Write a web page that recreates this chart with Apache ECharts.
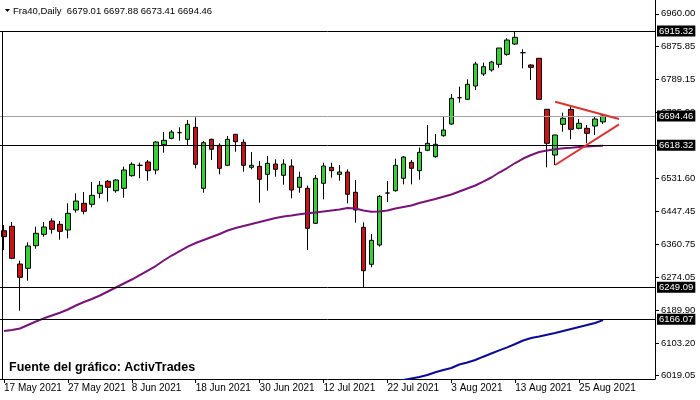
<!DOCTYPE html>
<html><head><meta charset="utf-8">
<script src="https://cdn.jsdelivr.net/npm/echarts@6/dist/echarts.min.js"></script>
<style>html,body{margin:0;padding:0;background:#fff}#c{width:700px;height:400px}</style>
</head><body><div id="c"></div>
<script>
const symbolName = 'Fra40,Daily';
const sourceText = 'Fuente del gráfico: ActivTrades';
const firstDate = '2021-05-17';
const totalSlots = 82;

const openP = [6396.1,6407.5,6309.5,6298.3,6357.1,6386.7,6421.3,6412.7,6397.9,6449.9,
6467.3,6464.7,6493.3,6524.5,6500.1,6506.3,6539.1,6566.0,6574.7,6553.9,
6619.7,6636.3,6650.9,6633.7,6664.9,6506.3,6633.7,6618.1,6566.1,6646.7,
6625.9,6560.9,6563.5,6542.7,6569.5,6540.1,6564.3,6508.9,6506.3,6415.3,
6519.3,6560.9,6542.7,6548.7,6495.9,6404.9,6308.7,6358.9,6494.1,6500.1,
6532.3,6573.9,6552.1,6605.1,6588.5,6643.1,6673.5,6741.9,6737.7,6772.3,
6803.5,6813.9,6828.7,6854.7,6881.5,6858.9,6826.9,6844.3,6711.7,6592.9,
6672.7,6711.7,6662.3,6662.3,6668.3,6679.01];
const highP = [6410.9,6418.7,6318.1,6365.9,6406.5,6418.7,6428.3,6421.3,6467.3,6493.3,
6496.7,6522.7,6525.3,6527.9,6529.7,6562.5,6573.9,6572.9,6579.9,6629.3,
6652.7,6657.9,6664.9,6683.9,6690.9,6629.3,6635.3,6623.3,6642.3,6647.5,
6633.7,6600.7,6577.3,6590.3,6581.7,6581.7,6581.7,6549.5,6513.6,6540.9,
6572.9,6572.9,6566.9,6555.7,6527.9,6417.9,6387.5,6488.9,6525.3,6583.3,
6590.3,6579.9,6612.4,6670.9,6647.5,6692.5,6751.5,6770.5,6789.7,6835.5,
6832.9,6838.1,6871.1,6896.3,6913.5,6867.7,6828.7,6845.1,6712.5,6645.5,
6702.9,6722.9,6686.5,6670.9,6692.5,6697.88];
const lowP = [6345.9,6322.0,6188.1,6266.1,6349.3,6380.5,6388.3,6372.7,6376.3,6442.9,
6438.7,6456.9,6480.3,6471.5,6494.9,6481.9,6536.5,6532.3,6526.1,6542.7,
6598.9,6633.7,6630.1,6616.3,6558.3,6494.9,6579.9,6542.7,6564.3,6601.5,
6549.5,6555.7,6468.9,6500.1,6536.5,6515.7,6480.3,6494.9,6345.9,6414.0,
6477.7,6533.9,6526.1,6467.3,6416.9,6248.9,6300.9,6354.5,6470.7,6497.5,
6516.7,6516.7,6528.7,6602.9,6585.9,6640.5,6671.7,6728.9,6735.9,6761.9,
6798.3,6809.5,6819.9,6851.1,6878.9,6818.3,6787.9,6737.7,6560.9,6566.9,
6653.5,6633.7,6659.7,6623.3,6644.9,6673.41];
const closeP = [6380.5,6324.3,6274.9,6356.3,6389.3,6405.7,6399.7,6394.5,6441.3,6473.3,
6446.5,6488.1,6514.1,6508.9,6527.9,6553.9,6568.7,6566.0,6552.1,6626.7,
6631.1,6652.7,6650.9,6672.7,6568.7,6624.9,6607.7,6558.3,6633.7,6627.5,
6566.1,6566.1,6529.7,6571.3,6555.7,6569.5,6501.9,6534.9,6402.3,6532.3,
6564.3,6552.1,6548.7,6490.7,6449.9,6292.1,6371.1,6485.5,6494.1,6566.1,
6587.7,6558.3,6599.9,6623.3,6620.7,6657.9,6740.3,6741.9,6776.7,6829.5,
6822.5,6834.7,6871.1,6891.9,6898.9,6858.9,6820.9,6737.7,6623.3,6644.9,
6688.3,6659.7,6675.3,6649.3,6686.5,6694.46];

const maPurple = [6135.3,6137.9,6141.8,6150.9,6160.0,6168.3,6175.6,6182.9,6191.2,6201.6,
6210.7,6218.5,6227.6,6238.0,6248.4,6258.8,6269.2,6280.9,6292.6,6304.3,
6318.6,6331.6,6343.3,6354.5,6364.1,6371.9,6379.7,6387.5,6396.6,6403.1,
6408.3,6413.5,6418.7,6423.9,6429.1,6433.0,6435.6,6438.7,6441.3,6443.4,
6446.0,6448.6,6451.2,6455.1,6453.8,6448.6,6445.5,6446.0,6448.6,6453.8,
6457.7,6461.6,6468.1,6473.3,6478.5,6484.5,6490.2,6498.0,6505.8,6513.6,
6523.5,6534.4,6547.4,6559.1,6572.1,6583.8,6592.9,6600.7,6604.6,6607.7,
6610.3,6611.9,6613.7,6615.0,6616.3,6617.1];
const maBlue = [null,null,null,null,null,null,null,null,null,null,
null,null,null,null,null,null,null,null,null,null,
null,null,null,null,null,null,null,null,null,null,
null,null,null,null,null,null,null,null,null,null,
null,null,null,null,null,null,null,5992.3,5997.5,6002.7,
6007.9,6011.8,6015.7,6020.9,6027.9,6033.9,6039.1,6048.2,6053.4,6059.9,
6068.5,6076.8,6085.1,6092.9,6101.5,6110.6,6117.1,6121.0,6125.7,6130.1,
6135.3,6140.5,6145.7,6150.9,6156.1,6163.5];

const levelLines = [6915.32, 6618.32, 6249.09, 6166.07];
const lastPrice = closeP[closeP.length - 1];
const triUpper = [[69, 6731.5], [77, 6686.5]];
const triLower = [[69, 6566.9], [77, 6672.7]];
const yTicks = [6019.05, 6103.20, 6189.90, 6274.05, 6360.75, 6447.45, 6531.60, 6618.30, 6705.00, 6789.15, 6875.85, 6960.00];
const yMin = 6010.52, yMax = 6995.92;
const xTickLabels = ['17 May 2021','27 May 2021','8 Jun 2021','18 Jun 2021','30 Jun 2021','12 Jul 2021','22 Jul 2021','3 Aug 2021','13 Aug 2021','25 Aug 2021'];

// category slots: weekdays from first date
const MON = ['Jan','Feb','Mar','Apr','May','Jun','Jul','Aug','Sep','Oct','Nov','Dec'];
const categories = [];
{
  const d = new Date(firstDate + 'T12:00:00Z');
  while (categories.length < totalSlots) {
    const wd = d.getUTCDay();
    if (wd !== 0 && wd !== 6) categories.push(d.getUTCDate() + ' ' + MON[d.getUTCMonth()] + ' ' + d.getUTCFullYear());
    d.setUTCDate(d.getUTCDate() + 1);
  }
}
const tickIdx = xTickLabels.map(l => categories.indexOf(l));
const candles = openP.map((o, i) => [o, closeP[i], lowP[i], highP[i]]);

const FONT = 'Liberation Sans';
const chart = echarts.init(document.getElementById('c'), null, {renderer: 'canvas'});
const blackBox = {show: true, position: 'end', distance: 2, formatter: p => p.value.toFixed(2),
  backgroundColor: '#000', color: '#fff', fontFamily: FONT, fontSize: 9.5, padding: [1, 2, 0, 2]};

chart.setOption({
  animation: false,
  backgroundColor: '#fff',
  grid: {left: -1, right: 45, top: 0, bottom: 21, containLabel: false},
  xAxis: {
    type: 'category', data: categories, boundaryGap: true,
    axisLine: {show: true, lineStyle: {color: '#000', width: 1}},
    axisTick: {show: true, alignWithLabel: true, length: 4, interval: i => tickIdx.includes(i), lineStyle: {color: '#000'}},
    axisLabel: {show: true, interval: i => tickIdx.includes(i), align: 'left', margin: 4,
      color: '#000', fontFamily: FONT, fontSize: 10},
    splitLine: {show: false}
  },
  yAxis: {
    type: 'value', position: 'right', min: yMin, max: yMax, scale: true,
    axisLine: {show: true, lineStyle: {color: '#000', width: 1}},
    axisTick: {show: true, length: 4, customValues: yTicks, lineStyle: {color: '#000'}},
    axisLabel: {show: true, customValues: yTicks, formatter: v => v.toFixed(2), margin: 6,
      color: '#000', fontFamily: FONT, fontSize: 9.5},
    splitLine: {show: false}
  },
  series: [
    {
      type: 'candlestick', data: candles, barWidth: 5, clip: true,
      itemStyle: {color: '#32d232', color0: '#c81414', borderColor: '#000', borderColor0: '#000', borderWidth: 1}
    },
    {
      type: 'line', data: maBlue, showSymbol: false, symbol: 'none', clip: true, z: 3,
      lineStyle: {color: '#0a0a96', width: 2}
    },
    {
      type: 'line', data: maPurple, showSymbol: false, symbol: 'none', clip: false, z: 3,
      lineStyle: {color: '#781478', width: 2},
      markLine: {
        silent: true, symbol: 'none', animation: false,
        data: [
          ...levelLines.map(v => ({yAxis: v, lineStyle: {color: '#000', width: 1, type: 'solid'}, label: blackBox})),
          {yAxis: lastPrice, lineStyle: {color: '#a0a0a0', width: 1, type: 'solid'}, label: blackBox},
          [{coord: triUpper[0]}, {coord: triUpper[1], lineStyle: {color: '#dc3232', width: 2, type: 'solid'}, label: {show: false}}],
          [{coord: triLower[0]}, {coord: triLower[1], lineStyle: {color: '#dc3232', width: 2, type: 'solid'}, label: {show: false}}]
        ]
      }
    }
  ],
  graphic: [
    {type: 'line', shape: {x1: 2.5, y1: 31, x2: 2.5, y2: 379}, style: {stroke: '#000', lineWidth: 1}, z: 10},
    {type: 'polygon', shape: {points: [[5, 9], [10, 9], [7.5, 12]]}, style: {fill: '#000'}, z: 10},
    {type: 'text', left: 13, top: 6, z: 10, style: {
      text: symbolName + '  ' + [openP, highP, lowP, closeP].map(a => a[a.length - 1].toFixed(2)).join(' '),
      fill: '#000', font: '9.5px "' + FONT + '"'}},
    {type: 'text', left: 9, top: 361, z: 10, style: {
      text: sourceText, fill: '#000', font: 'bold 12.5px "Liberation Sans"'}}
  ]
});
</script></body></html>
